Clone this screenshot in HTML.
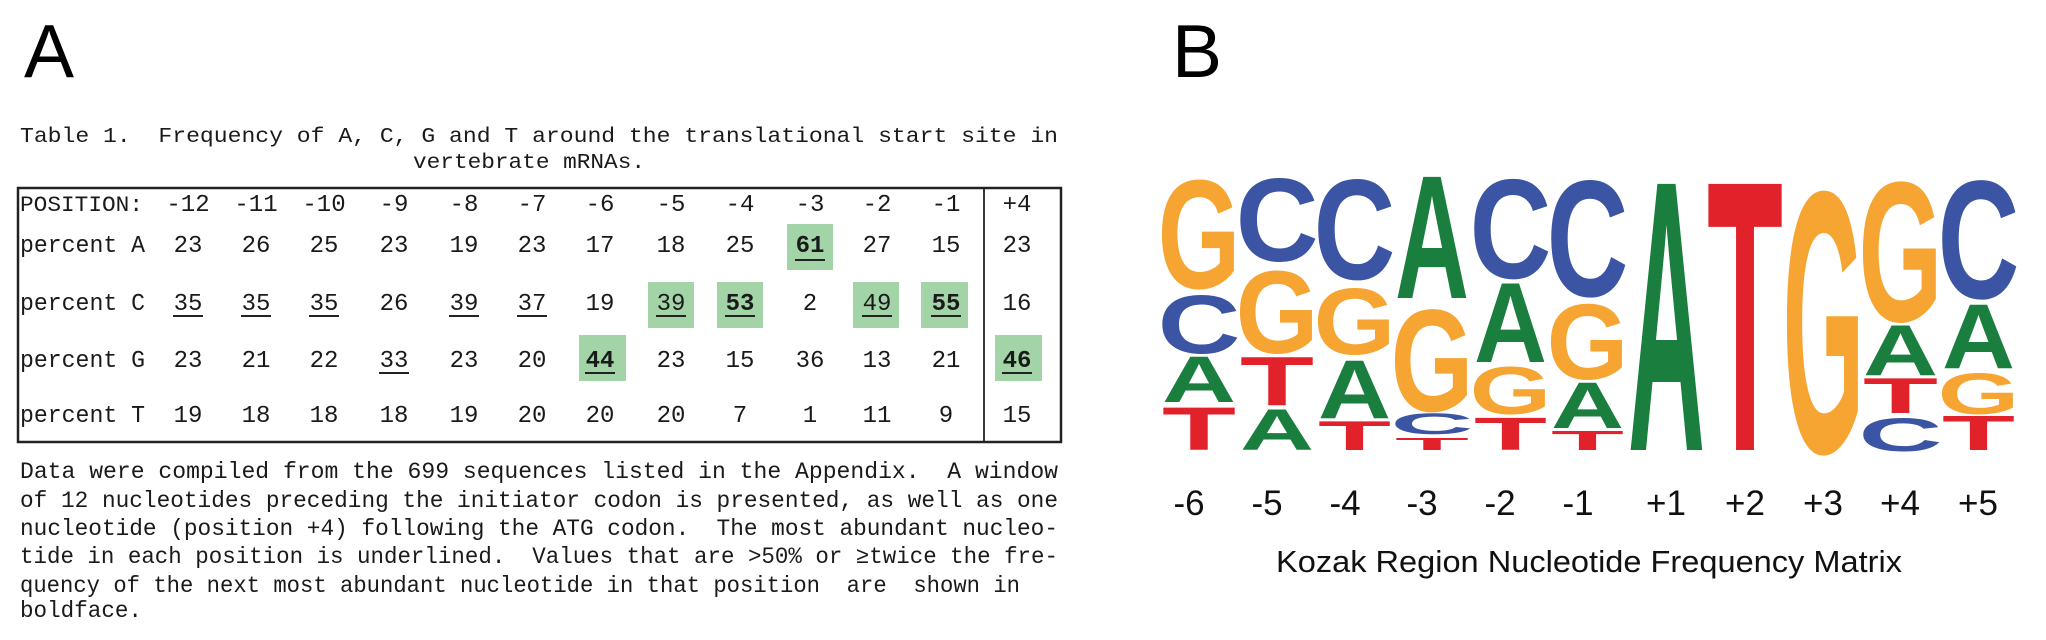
<!DOCTYPE html>
<html><head><meta charset="utf-8"><style>
html,body{margin:0;padding:0;background:#fff;}
svg{display:block;}
.m{font-family:"Liberation Mono",monospace;fill:#1a1a1a;}
.n{font-family:"Liberation Mono",monospace;font-size:24px;fill:#1a1a1a;text-anchor:middle;}
.b{font-weight:bold;}
.L{font-family:"Liberation Sans",sans-serif;font-weight:bold;font-size:100px;}
.G{fill:#F6A533}.C{fill:#3B54A3}.A{fill:#1A7F3E}.T{fill:#E2222A}
</style></head><body>
<svg width="2046" height="640" viewBox="0 0 2046 640" xmlns="http://www.w3.org/2000/svg">
<rect width="2046" height="640" fill="#fff"/>
<text x="24" y="77" font-family="Liberation Sans,sans-serif" font-size="75" fill="#000">A</text>
<text x="1172" y="77" font-family="Liberation Sans,sans-serif" font-size="75" fill="#000">B</text>

<text class="m" x="20" y="142" font-size="21" textLength="1038" lengthAdjust="spacingAndGlyphs" xml:space="preserve">Table 1.  Frequency of A, C, G and T around the translational start site in</text>
<text class="m" x="413" y="168" font-size="21" textLength="232" lengthAdjust="spacingAndGlyphs">vertebrate mRNAs.</text>

<g fill="#A3D4A8">
<rect x="787" y="224" width="46" height="46"/>
<rect x="648" y="282" width="46" height="46"/>
<rect x="717" y="282" width="46" height="46"/>
<rect x="853" y="282" width="46" height="46"/>
<rect x="921" y="282" width="47" height="46"/>
<rect x="579" y="335" width="47" height="46"/>
<rect x="995" y="335" width="47" height="46"/>
</g>

<g stroke="#222" stroke-width="2.5" fill="none">
<rect x="18" y="188" width="1043" height="254"/>
<line x1="984" y1="188" x2="984" y2="442" stroke-width="1.8"/>
</g>

<text class="m" x="20" y="211" font-size="22" textLength="123" lengthAdjust="spacingAndGlyphs">POSITION:</text>
<g class="n" font-size="26">
<text x="188" y="211">-12</text><text x="256" y="211">-11</text><text x="324" y="211">-10</text><text x="394" y="211">-9</text><text x="464" y="211">-8</text><text x="532" y="211">-7</text><text x="600" y="211">-6</text><text x="671" y="211">-5</text><text x="740" y="211">-4</text><text x="810" y="211">-3</text><text x="877" y="211">-2</text><text x="946" y="211">-1</text><text x="1017" y="211">+4</text>
</g>

<g class="m" font-size="24">
<text x="20" y="252" textLength="125" lengthAdjust="spacingAndGlyphs">percent A</text>
<text x="20" y="310" textLength="125" lengthAdjust="spacingAndGlyphs">percent C</text>
<text x="20" y="367" textLength="125" lengthAdjust="spacingAndGlyphs">percent G</text>
<text x="20" y="422" textLength="125" lengthAdjust="spacingAndGlyphs">percent T</text>
</g>

<g class="n">
<text x="188" y="252">23</text><text x="256" y="252">26</text><text x="324" y="252">25</text><text x="394" y="252">23</text><text x="464" y="252">19</text><text x="532" y="252">23</text><text x="600" y="252">17</text><text x="671" y="252">18</text><text x="740" y="252">25</text><text x="810" y="252" class="n b">61</text><text x="877" y="252">27</text><text x="946" y="252">15</text><text x="1017" y="252">23</text>
<text x="188" y="310">35</text><text x="256" y="310">35</text><text x="324" y="310">35</text><text x="394" y="310">26</text><text x="464" y="310">39</text><text x="532" y="310">37</text><text x="600" y="310">19</text><text x="671" y="310">39</text><text x="740" y="310" class="n b">53</text><text x="810" y="310">2</text><text x="877" y="310">49</text><text x="946" y="310" class="n b">55</text><text x="1017" y="310">16</text>
<text x="188" y="367">23</text><text x="256" y="367">21</text><text x="324" y="367">22</text><text x="394" y="367">33</text><text x="464" y="367">23</text><text x="532" y="367">20</text><text x="600" y="367" class="n b">44</text><text x="671" y="367">23</text><text x="740" y="367">15</text><text x="810" y="367">36</text><text x="877" y="367">13</text><text x="946" y="367">21</text><text x="1017" y="367" class="n b">46</text>
<text x="188" y="422">19</text><text x="256" y="422">18</text><text x="324" y="422">18</text><text x="394" y="422">18</text><text x="464" y="422">19</text><text x="532" y="422">20</text><text x="600" y="422">20</text><text x="671" y="422">20</text><text x="740" y="422">7</text><text x="810" y="422">1</text><text x="877" y="422">11</text><text x="946" y="422">9</text><text x="1017" y="422">15</text>
</g>

<g stroke="#222" stroke-width="2">
<line x1="795" y1="260" x2="825" y2="260"/>
<line x1="173" y1="316" x2="203" y2="316"/><line x1="241" y1="316" x2="271" y2="316"/><line x1="309" y1="316" x2="339" y2="316"/><line x1="449" y1="316" x2="479" y2="316"/><line x1="517" y1="316" x2="547" y2="316"/><line x1="656" y1="316" x2="686" y2="316"/><line x1="725" y1="316" x2="755" y2="316"/><line x1="862" y1="316" x2="892" y2="316"/><line x1="931" y1="316" x2="961" y2="316"/>
<line x1="379" y1="373" x2="409" y2="373"/><line x1="585" y1="373" x2="615" y2="373"/><line x1="1002" y1="373" x2="1032" y2="373"/>
</g>

<g class="m" font-size="23">
<text x="20" y="478" textLength="1038" lengthAdjust="spacingAndGlyphs" xml:space="preserve">Data were compiled from the 699 sequences listed in the Appendix.  A window</text>
<text x="20" y="507" textLength="1038" lengthAdjust="spacingAndGlyphs" xml:space="preserve">of 12 nucleotides preceding the initiator codon is presented, as well as one</text>
<text x="20" y="535" textLength="1038" lengthAdjust="spacingAndGlyphs" xml:space="preserve">nucleotide (position +4) following the ATG codon.  The most abundant nucleo-</text>
<text x="20" y="563" textLength="1038" lengthAdjust="spacingAndGlyphs" xml:space="preserve">tide in each position is underlined.  Values that are &gt;50% or ≥twice the fre-</text>
<text x="20" y="592" textLength="1000" lengthAdjust="spacingAndGlyphs" xml:space="preserve">quency of the next most abundant nucleotide in that position  are  shown in</text>
<text x="20" y="617" textLength="122" lengthAdjust="spacingAndGlyphs">boldface.</text>
</g>

<g class="L">
<text class="G" transform="translate(1157.6,288) scale(1,1.554)" textLength="82.9" lengthAdjust="spacingAndGlyphs">G</text>
<text class="C" transform="translate(1157.6,353) scale(1,0.838)" textLength="82.9" lengthAdjust="spacingAndGlyphs">C</text>
<text class="A" transform="translate(1162,402) scale(1,0.656)" textLength="74" lengthAdjust="spacingAndGlyphs">A</text>
<text class="T" transform="translate(1162,450) scale(1,0.615)" textLength="74" lengthAdjust="spacingAndGlyphs">T</text>
<text class="C" transform="translate(1235.6,261) scale(1,1.189)" textLength="82.9" lengthAdjust="spacingAndGlyphs">C</text>
<text class="G" transform="translate(1235.6,353) scale(1,1.176)" textLength="82.9" lengthAdjust="spacingAndGlyphs">G</text>
<text class="T" transform="translate(1240,405) scale(1,0.698)" textLength="74" lengthAdjust="spacingAndGlyphs">T</text>
<text class="A" transform="translate(1240,450) scale(1,0.587)" textLength="74" lengthAdjust="spacingAndGlyphs">A</text>
<text class="C" transform="translate(1313.6,279) scale(1,1.432)" textLength="81.8" lengthAdjust="spacingAndGlyphs">C</text>
<text class="G" transform="translate(1313.6,354) scale(1,0.946)" textLength="81.8" lengthAdjust="spacingAndGlyphs">G</text>
<text class="A" transform="translate(1318,418) scale(1,0.838)" textLength="73" lengthAdjust="spacingAndGlyphs">A</text>
<text class="T" transform="translate(1318,450) scale(1,0.419)" textLength="73" lengthAdjust="spacingAndGlyphs">T</text>
<text class="A" transform="translate(1395,298) scale(1,1.760)" textLength="74" lengthAdjust="spacingAndGlyphs">A</text>
<text class="G" transform="translate(1390.6,411) scale(1,1.459)" textLength="82.9" lengthAdjust="spacingAndGlyphs">G</text>
<text class="C" transform="translate(1390.6,434) scale(1,0.297)" textLength="82.9" lengthAdjust="spacingAndGlyphs">C</text>
<text class="T" transform="translate(1395,450) scale(1,0.18)" textLength="74" lengthAdjust="spacingAndGlyphs">T</text>
<text class="C" transform="translate(1469.6,278) scale(1,1.419)" textLength="81.8" lengthAdjust="spacingAndGlyphs">C</text>
<text class="A" transform="translate(1474,362) scale(1,1.145)" textLength="73" lengthAdjust="spacingAndGlyphs">A</text>
<text class="G" transform="translate(1469.6,414) scale(1,0.676)" textLength="81.8" lengthAdjust="spacingAndGlyphs">G</text>
<text class="T" transform="translate(1474,450) scale(1,0.461)" textLength="73" lengthAdjust="spacingAndGlyphs">T</text>
<text class="C" transform="translate(1546.6,296) scale(1,1.662)" textLength="81.8" lengthAdjust="spacingAndGlyphs">C</text>
<text class="G" transform="translate(1546.6,379) scale(1,1.081)" textLength="81.8" lengthAdjust="spacingAndGlyphs">G</text>
<text class="A" transform="translate(1551,428) scale(1,0.656)" textLength="73" lengthAdjust="spacingAndGlyphs">A</text>
<text class="T" transform="translate(1551,450) scale(1,0.279)" textLength="73" lengthAdjust="spacingAndGlyphs">T</text>
<text class="A" transform="translate(1628,450) scale(1,3.869)" textLength="77" lengthAdjust="spacingAndGlyphs">A</text>
<text class="T" transform="translate(1707,450) scale(1,3.869)" textLength="76" lengthAdjust="spacingAndGlyphs">T</text>
<text class="G" transform="translate(1782.6,452) scale(1,3.743)" textLength="81.8" lengthAdjust="spacingAndGlyphs">G</text>
<text class="G" transform="translate(1858.5,321) scale(1,2.0)" textLength="84" lengthAdjust="spacingAndGlyphs">G</text>
<text class="A" transform="translate(1863,375) scale(1,0.726)" textLength="75" lengthAdjust="spacingAndGlyphs">A</text>
<text class="T" transform="translate(1863,413) scale(1,0.503)" textLength="75" lengthAdjust="spacingAndGlyphs">T</text>
<text class="C" transform="translate(1858.5,451) scale(1,0.473)" textLength="84" lengthAdjust="spacingAndGlyphs">C</text>
<text class="C" transform="translate(1937.6,298) scale(1,1.689)" textLength="81.8" lengthAdjust="spacingAndGlyphs">C</text>
<text class="A" transform="translate(1942,368) scale(1,0.922)" textLength="73" lengthAdjust="spacingAndGlyphs">A</text>
<text class="G" transform="translate(1937.6,414) scale(1,0.581)" textLength="81.8" lengthAdjust="spacingAndGlyphs">G</text>
<text class="T" transform="translate(1942,450) scale(1,0.489)" textLength="73" lengthAdjust="spacingAndGlyphs">T</text>
</g>

<g font-family="Liberation Sans,sans-serif" font-size="35" fill="#111" text-anchor="middle">
<text x="1189" y="515">-6</text><text x="1267" y="515">-5</text><text x="1345" y="515">-4</text><text x="1422" y="515">-3</text><text x="1500" y="515">-2</text><text x="1578" y="515">-1</text><text x="1666" y="515">+1</text><text x="1745" y="515">+2</text><text x="1823" y="515">+3</text><text x="1900" y="515">+4</text><text x="1978" y="515">+5</text>
</g>
<text x="1276" y="572" font-family="Liberation Sans,sans-serif" font-size="31" fill="#111" textLength="626" lengthAdjust="spacingAndGlyphs">Kozak Region Nucleotide Frequency Matrix</text>
</svg>
</body></html>
